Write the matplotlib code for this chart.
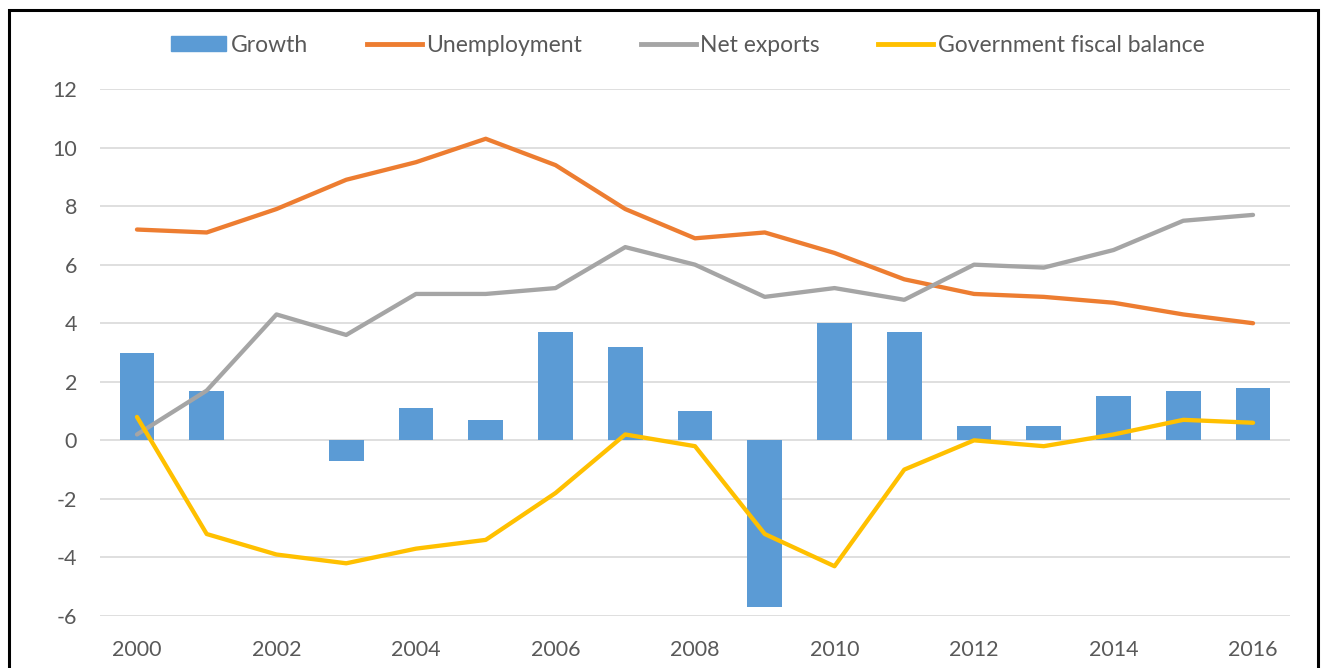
import matplotlib.pyplot as plt
import matplotlib.patches as mpatches
from matplotlib.lines import Line2D

# data
years = list(range(2000, 2017))
growth = [3.0, 1.7, 0.0, -0.7, 1.1, 0.7, 3.7, 3.2, 1.0, -5.7, 4.0, 3.7, 0.5, 0.5, 1.5, 1.7, 1.8]
unemployment = [7.2, 7.1, 7.9, 8.9, 9.5, 10.3, 9.4, 7.9, 6.9, 7.1, 6.4, 5.5, 5.0, 4.9, 4.7, 4.3, 4.0]
net_exports = [0.2, 1.7, 4.3, 3.6, 5.0, 5.0, 5.2, 6.6, 6.0, 4.9, 5.2, 4.8, 6.0, 5.9, 6.5, 7.5, 7.7]
fiscal_balance = [0.8, -3.2, -3.9, -4.2, -3.7, -3.4, -1.8, 0.2, -0.2, -3.2, -4.3, -1.0, 0.0, -0.2, 0.2, 0.7, 0.6]
x_ticks = list(range(2000, 2017, 2))
y_ticks = list(range(-6, 13, 2))

BLUE = '#5B9BD5'
ORANGE = '#ED7D31'
GREY = '#A5A5A5'
GOLD = '#FFC000'
TEXT = '#595959'

plt.rcParams['font.family'] = ['Lato', 'DejaVu Sans']
plt.rcParams['axes.unicode_minus'] = False

W, H = 1323, 668
fig = plt.figure(figsize=(W / 100, H / 100), dpi=100, facecolor='white')
ax = fig.add_axes([100 / W, (H - 616) / H, (1290 - 100) / W, (616 - 89) / H])

# bars first, lines on top (Excel order)
ax.bar(years, growth, width=0.5, color=BLUE, zorder=2)
ax.plot(years, unemployment, color=ORANGE, lw=3.1, solid_capstyle='round', zorder=3)
ax.plot(years, net_exports, color=GREY, lw=3.1, solid_capstyle='round', zorder=3)
ax.plot(years, fiscal_balance, color=GOLD, lw=3.1, solid_capstyle='round', zorder=4)

ax.set_xlim(1999.47, 2016.53)
ax.set_ylim(-6, 12)
ax.set_yticks(y_ticks)
ax.set_xticks(x_ticks)
ax.grid(axis='y', color='#D9D9D9', lw=1.2, zorder=0)
ax.set_axisbelow(True)
for s in ax.spines.values():
    s.set_visible(False)
ax.tick_params(length=0, labelsize=15.5, labelcolor=TEXT)
ax.tick_params(axis='y', pad=16.5)
ax.tick_params(axis='x', pad=17)

# legend across the top
handles = [
    mpatches.Patch(color=BLUE),
    Line2D([], [], color=ORANGE, lw=3.5),
    Line2D([], [], color=GREY, lw=3.5),
    Line2D([], [], color=GOLD, lw=3.5),
]
labels = ['Growth', 'Unemployment', 'Net exports', 'Government fiscal balance']
fig.legend(handles, labels, loc='center', bbox_to_anchor=(688 / W, 1 - 45 / H),
           ncol=4, frameon=False, fontsize=16.5, labelcolor=TEXT,
           handlelength=2.4, handleheight=0.6, handletextpad=0.2, columnspacing=2.55)

# black frame around the chart, cut by the image edges
frame = mpatches.Rectangle((9 / W, -0.05), (1318 - 9) / W, 1.05 - 10 / H,
                           transform=fig.transFigure, fill=False,
                           edgecolor='black', lw=2.2)
fig.patches.append(frame)

fig.savefig('out.png', dpi=100, facecolor='white')
